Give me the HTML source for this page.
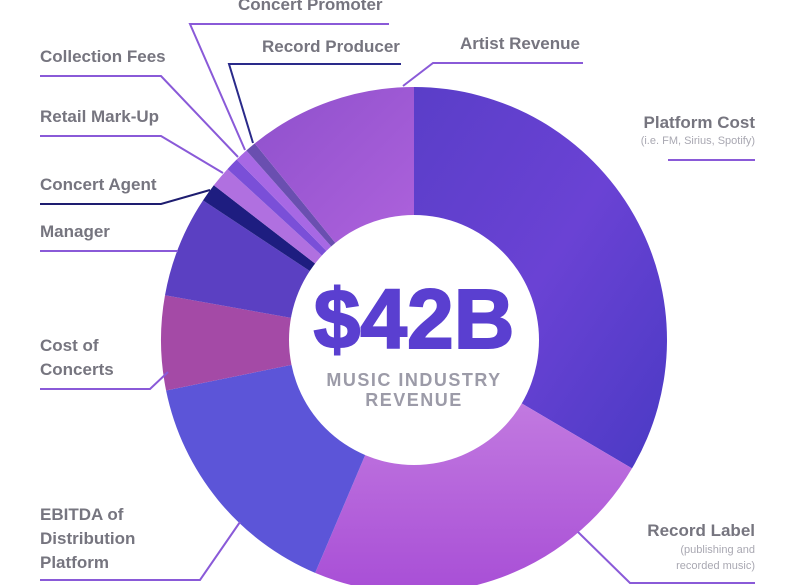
<!DOCTYPE html>
<html><head><meta charset="utf-8"><style>
html,body{margin:0;padding:0;background:#fff}
svg{display:block}
text{font-family:"Liberation Sans",sans-serif;font-weight:bold}
.l{fill:#76757f;font-size:17px}
.s{fill:#a9a8b2;font-size:11px;font-weight:normal}
.ln{fill:none;stroke:#8a5ad8;stroke-width:2}
</style></head><body>
<svg id="c" width="800" height="585" viewBox="0 0 800 585">
<defs>
<linearGradient id="gp" x1="0" y1="0" x2="1" y2="1"><stop offset="0" stop-color="#5a3ec8"/><stop offset="0.5" stop-color="#6a42d4"/><stop offset="1" stop-color="#4a3ac4"/></linearGradient>
<linearGradient id="gr" x1="0" y1="0" x2="0" y2="1"><stop offset="0" stop-color="#c27ae0"/><stop offset="1" stop-color="#a84ed6"/></linearGradient>
<linearGradient id="ga" x1="0" y1="0" x2="1" y2="1"><stop offset="0" stop-color="#8e50cc"/><stop offset="1" stop-color="#ae62dc"/></linearGradient>
</defs>
<g id="slices"></g>
<circle cx="414" cy="340" r="125" fill="#fff"/>
<text x="414" y="348" text-anchor="middle" font-size="84" fill="#5a3fd0" stroke="#5a3fd0" stroke-width="2">$42B</text>
<text x="414" y="386" text-anchor="middle" font-size="18" fill="#9c9ba8" style="letter-spacing:1.5px">MUSIC INDUSTRY</text>
<text x="414" y="406" text-anchor="middle" font-size="18" fill="#9c9ba8" style="letter-spacing:1.5px">REVENUE</text>

<text class="l" x="238" y="10">Concert Promoter</text>
<polyline class="ln" points="389,24 190,24 245,150"/>
<text class="l" x="262" y="52">Record Producer</text>
<polyline class="ln" style="stroke:#2a2a8a" points="401,64 229,64 253,143"/>
<text class="l" x="460" y="49">Artist Revenue</text>
<polyline class="ln" points="583,63 433,63 403,86"/>
<text class="l" x="40" y="62">Collection Fees</text>
<polyline class="ln" points="40,76 161,76 238,157"/>
<text class="l" x="40" y="122">Retail Mark-Up</text>
<polyline class="ln" points="40,136 161,136 223,173"/>
<text class="l" x="40" y="190">Concert Agent</text>
<polyline class="ln" style="stroke:#1e1d70" points="40,204 161,204 210,190"/>
<text class="l" x="40" y="237">Manager</text>
<polyline class="ln" points="40,251 178,251"/>
<text class="l" x="40" y="351">Cost of</text>
<text class="l" x="40" y="375">Concerts</text>
<polyline class="ln" points="40,389 150,389 168,372"/>
<text class="l" x="40" y="520">EBITDA of</text>
<text class="l" x="40" y="544">Distribution</text>
<text class="l" x="40" y="568">Platform</text>
<polyline class="ln" points="40,580 200,580 240,522"/>
<text class="l" x="755" y="128" text-anchor="end">Platform Cost</text>
<text class="s" x="755" y="144" text-anchor="end">(i.e. FM, Sirius, Spotify)</text>
<polyline class="ln" points="668,160 755,160"/>
<text class="l" x="755" y="536" text-anchor="end">Record Label</text>
<text class="s" x="755" y="553" text-anchor="end">(publishing and</text>
<text class="s" x="755" y="569" text-anchor="end">recorded music)</text>
<polyline class="ln" points="578,532 630,583 755,583"/>
</svg>
<script>
var cx=414,cy=340,R=253,r=120;
var s=[[0,120.5,"url(#gp)"],[120.5,203,"url(#gr)"],[203,258.5,"#5c55d8"],[258.5,280.2,"#a44aa6"],[280.2,303.5,"#5b40c2"],[303.5,307.7,"#1e1d80"],[307.7,312.5,"#b070e0"],[312.5,315.5,"#7a4fd8"],[315.5,318.5,"#a768e4"],[318.5,321,"#6a4fb0"],[321,360,"url(#ga)"]];
function p(a,rad){a=a*Math.PI/180;return (cx+rad*Math.sin(a)).toFixed(2)+","+(cy-rad*Math.cos(a)).toFixed(2);}
var g=document.getElementById("slices"),h="";
s.forEach(function(d){var lg=(d[1]-d[0])>180?1:0;
h+='<path fill="'+d[2]+'" d="M'+p(d[0],R)+' A'+R+','+R+' 0 '+lg+' 1 '+p(d[1],R)+' L'+p(d[1],r)+' A'+r+','+r+' 0 '+lg+' 0 '+p(d[0],r)+' Z"/>';});
g.innerHTML=h;
</script>
</body></html>
